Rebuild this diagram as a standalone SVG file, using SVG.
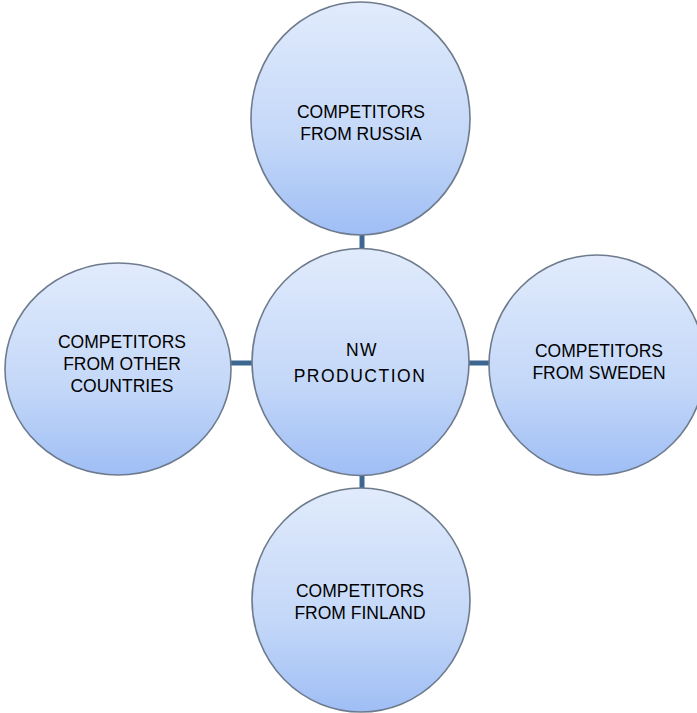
<svg xmlns="http://www.w3.org/2000/svg" width="697" height="713" viewBox="0 0 697 713">
<style>
.node{fill:url(#g);stroke:#6e7b8c;stroke-width:1.6}
.t{font-family:"Liberation Sans",Arial,sans-serif;font-size:17.5px;fill:#000;text-anchor:middle}
.c{letter-spacing:1.5px}
.conn{stroke:#3d6690;stroke-width:5;fill:none}
</style>
<defs>
<linearGradient id="g" x1="0" y1="0" x2="0" y2="1">
<stop offset="0" stop-color="#e1ebfc"/>
<stop offset="0.6" stop-color="#c3d7f8"/>
<stop offset="1" stop-color="#9fbef5"/>
</linearGradient>
</defs>
<rect width="697" height="713" fill="#fff"/>
<g id="connectors">
<line class="conn" x1="362" y1="233" x2="362" y2="251"/>
<line class="conn" x1="229" y1="363" x2="254" y2="363"/>
<line class="conn" x1="467" y1="363" x2="491" y2="363"/>
<line class="conn" x1="362" y1="473" x2="362" y2="490"/>
</g>
<g id="russia">
<ellipse class="node" cx="360.5" cy="118.5" rx="109.5" ry="116.5"/>
<text class="t" x="361" y="118">COMPETITORS</text>
<text class="t" x="361" y="140">FROM RUSSIA</text>
</g>
<g id="nw">
<ellipse class="node" cx="360.5" cy="362" rx="108.5" ry="113.5"/>
<text class="t c" x="362" y="356">NW</text>
<text class="t c" x="360" y="382">PRODUCTION</text>
</g>
<g id="other">
<ellipse class="node" cx="118" cy="369" rx="113" ry="106"/>
<text class="t" x="122" y="348">COMPETITORS</text>
<text class="t" x="122" y="370">FROM OTHER</text>
<text class="t" x="122" y="392">COUNTRIES</text>
</g>
<g id="sweden">
<ellipse class="node" cx="597" cy="365" rx="108" ry="110"/>
<text class="t" x="599" y="357">COMPETITORS</text>
<text class="t" x="599" y="379">FROM SWEDEN</text>
</g>
<g id="finland">
<ellipse class="node" cx="361" cy="600" rx="109" ry="112"/>
<text class="t" x="360" y="597">COMPETITORS</text>
<text class="t" x="360" y="619">FROM FINLAND</text>
</g>
</svg>
